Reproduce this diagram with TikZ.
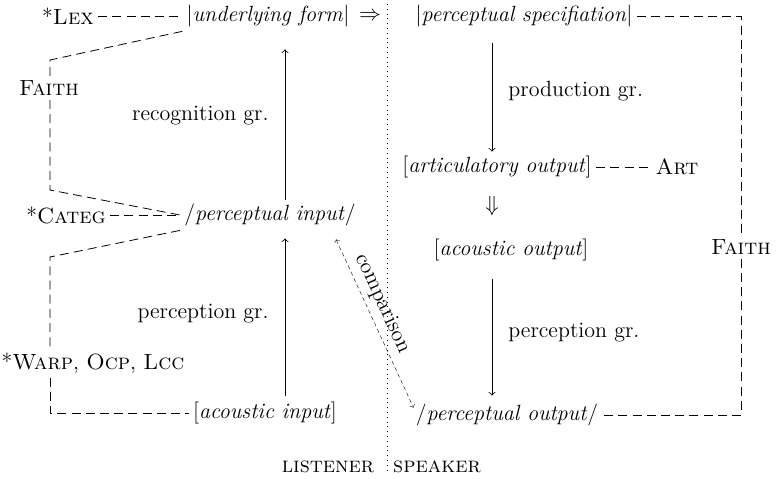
\documentclass[tikz,border=0pt]{standalone}
\usetikzlibrary{positioning,calc}

\begin{document}
\begin{tikzpicture}[
  x=0.5pt, y=-0.5pt,
  every node/.style={font=\fontsize{11}{13}\selectfont},
  form/.style={inner sep=2pt},
  cons/.style={inner sep=2pt},
  gram/.style={inner sep=2pt},
  arr/.style={->, thin},
  dashln/.style={thin, dash pattern=on 4.5pt off 2.6pt},
  cmp/.style={<->, very thin, dash pattern=on 2pt off 1.5pt}
]
  \useasboundingbox (0,0) rectangle (776,478);

  % listener / speaker
  \draw[dotted, thin] (387,4) -- (387,474);
  \node (listener) at (328,467) {\textsc{listener}};
  \node (speaker) at (437,467) {\textsc{speaker}};

  % Listener
  \node[form] (uf) at (268,16) {$|$\textit{underlying form}$|$};
  \node[form] (pi) at (270,215) {/\textit{perceptual input}/};
  \node[form] (ai) at (265,413) {[\textit{acoustic input}]};
  \node[cons] (lex) at (68,16) {*\textsc{Lex}};
  \node[cons] (faithL) at (49,88) {\textsc{Faith}};
  \node[cons] (categ) at (66,215) {*\textsc{Categ}};
  \node[cons] (warp) at (93,363) {*\textsc{Warp}, \textsc{Ocp}, \textsc{Lcc}};
  \coordinate (axisL) at (285,0);
  \coordinate (fl1) at (50,60);
  \coordinate (fl2) at (50,190);
  \coordinate (wl1) at (50,257);
  \coordinate (wl2) at (50,413);

  \draw[arr, shorten <=1pt, shorten >=4pt] (ai.north -| axisL) -- (pi.south -| axisL)
    node[midway, left=6pt, gram] {perception gr.};
  \draw[arr, shorten >=9pt] (pi.north -| axisL) -- (uf.south -| axisL)
    node[midway, left=6pt, gram] {recognition gr.};

  \draw[dashln] (lex) -- (uf);
  \draw[dashln] (categ) -- (pi);
  \draw[dashln] (uf.south west) -- (fl1) -- (faithL.north -| fl1);
  \draw[dashln] (faithL.south -| fl1) -- (fl2) -- (pi.west);
  \draw[dashln] (pi.south west) -- (wl1) -- (warp.north -| wl1);
  \draw[dashln] (warp.south -| wl1) -- (wl2) -- (ai);

  % Speaker
  \node (impl) at (370,16) {$\Rightarrow$};
  \node[form] (ps) at (524,16) {$|$\textit{perceptual specifiation}$|$};
  \node[form] (ao) at (497,167) {[\textit{articulatory output}]};
  \node[cons] (art) at (677,167) {\textsc{Art}};
  \node (dimpl) at (492,206) {$\Downarrow$};
  \node[form] (aco) at (511,250) {[\textit{acoustic output}]};
  \node[form] (po) at (507,415) {/\textit{perceptual output}/};
  \node[cons] (faithR) at (741,247) {\textsc{Faith}};
  \coordinate (axisR) at (492,0);
  \coordinate (fr) at (741,0);

  \draw[arr, shorten <=6pt] (ps.south -| axisR) -- (ao.north -| axisR)
    node[midway, right=6pt, gram] {production gr.};
  \draw[arr, shorten <=7pt, shorten >=2pt] (aco.south -| axisR) -- (po.north -| axisR)
    node[midway, right=6pt, gram] {perception gr.};

  \draw[dashln] (ao) -- (art);
  \draw[dashln] (ps.east) -- (ps.east -| fr) -- (faithR.north);
  \draw[dashln] (faithR.south) -- (po.east -| fr) -- (po.east);

  % comparison
  \draw[cmp] ($(pi.south east)+(-24,9)$) -- ($(po.north west)+(2,8)$)
    node[pos=0.42, sloped, above, inner sep=3pt] {comparison};
\end{tikzpicture}
\end{document}
